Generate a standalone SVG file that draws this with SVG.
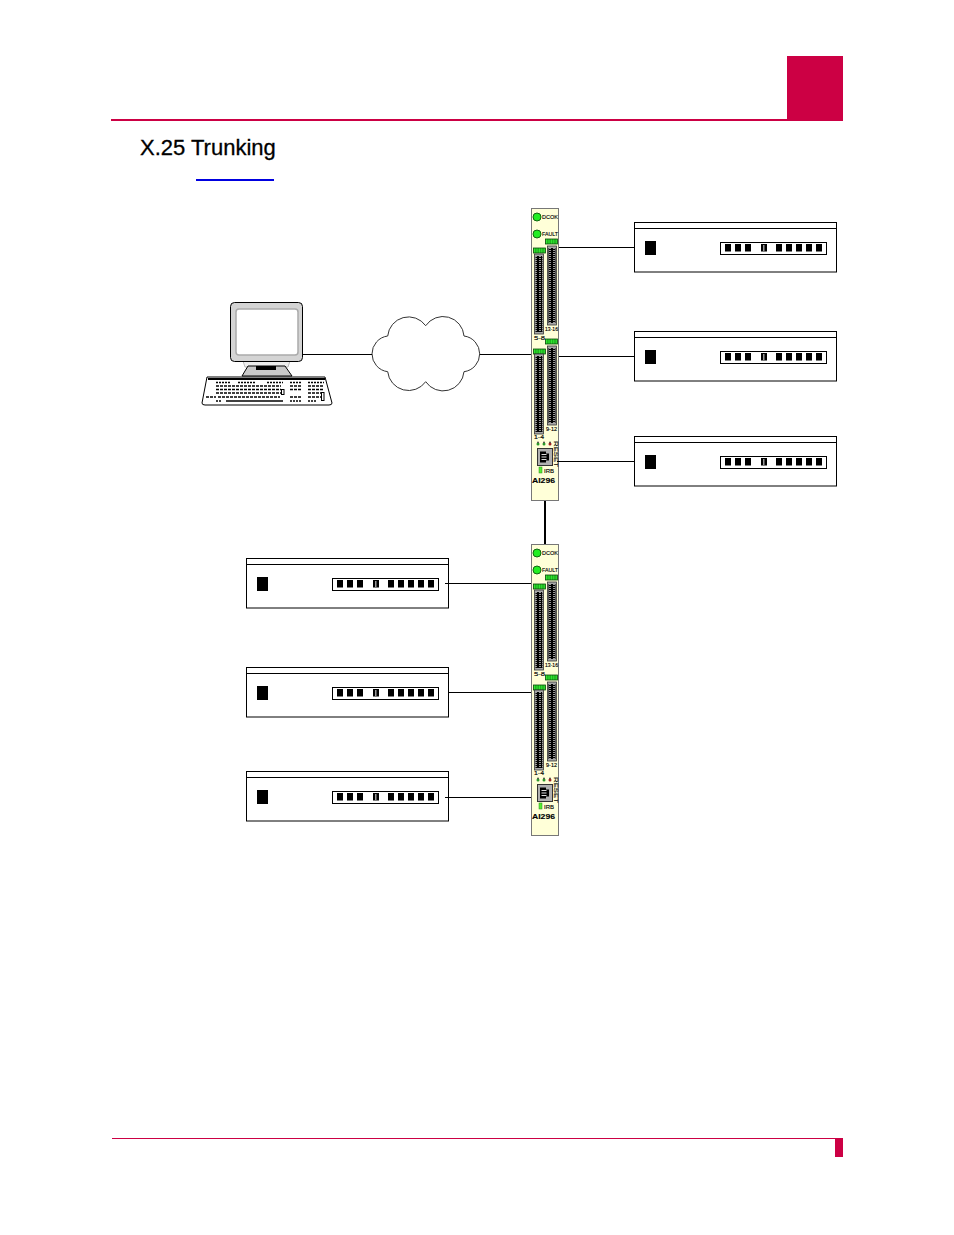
<svg xmlns="http://www.w3.org/2000/svg" xmlns:xlink="http://www.w3.org/1999/xlink" width="954" height="1235" viewBox="0 0 954 1235">
<style>
.wire{stroke:#000;stroke-width:1;fill:none}
.dev{fill:#fff;stroke:#000;stroke-width:1}
.k{fill:#000}
.lbl{font-family:"Liberation Sans",Arial,sans-serif;font-size:6px;fill:#000;stroke:#000;stroke-width:.15}
.led{fill:#22ee22;stroke:#116611;stroke-width:1}
.gb{fill:url(#seg);stroke:#0a4a0a;stroke-width:.8}
.lad{fill:#a8a8a8;stroke:#333;stroke-width:.8}
.keys{stroke:#000;fill:none}
.card{fill:#ffffd8;stroke:#777;stroke-width:1}
</style>
<defs>
<pattern id="dots" width="7" height="2" patternUnits="userSpaceOnUse">
<rect width="7" height="2" fill="#000"/>
<rect x="1" y="0" width="2" height="1" fill="#999"/>
<rect x="4" y="0" width="2" height="1" fill="#999"/>
</pattern>
<pattern id="seg" width="2.400" height="5" patternUnits="userSpaceOnUse">
<rect width="2.400" height="5" fill="#0a7a0a"/>
<rect x=".4" width="1.600" height="5" fill="#33ee33"/>
</pattern>
<g id="device-shape">
<rect class="dev" x=".5" y=".5" width="202" height="49.500"/>
<line class="wire" x1=".5" y1="6.500" x2="202.500" y2="6.500"/>
<rect class="k" x="11" y="19" width="11" height="14"/>
<rect class="dev" x="86.500" y="20.500" width="106" height="12"/>
<g class="k">
<rect x="91" y="22" width="6" height="7.500"/><rect x="101" y="22" width="6" height="7.500"/><rect x="111" y="22" width="6" height="7.500"/>
<rect x="127" y="22" width="6" height="7.500"/>
<rect x="142" y="22" width="6" height="7.500"/><rect x="152" y="22" width="6" height="7.500"/><rect x="162" y="22" width="6" height="7.500"/><rect x="172" y="22" width="6" height="7.500"/><rect x="182" y="22" width="6" height="7.500"/>
</g>
<rect x="129" y="23" width="1.500" height="6" fill="#999"/>
</g>
<g id="module-shape">
<circle class="led" cx="6" cy="9" r="4"/>
<circle class="led" cx="6" cy="26" r="4"/>
<text class="lbl" x="11" y="11" textLength="16" lengthAdjust="spacingAndGlyphs">DCOK</text>
<text class="lbl" x="11" y="28" textLength="16" lengthAdjust="spacingAndGlyphs">FAULT</text>
<rect class="gb" x="14.500" y="31" width="12" height="5"/>
<rect class="gb" x="2.500" y="40" width="12" height="5"/>
<rect class="gb" x="14.500" y="131" width="12" height="5"/>
<rect class="gb" x="2.500" y="141" width="12" height="5"/>
<rect class="lad" x="3.500" y="46" width="9" height="80"/>
<rect x="4.500" y="48" width="7" height="76" fill="url(#dots)"/>
<rect class="lad" x="16.500" y="38" width="9" height="79"/>
<rect x="17.500" y="40" width="7" height="75" fill="url(#dots)"/>
<rect class="lad" x="3.500" y="146" width="9" height="80"/>
<rect x="4.500" y="148" width="7" height="76" fill="url(#dots)"/>
<rect class="lad" x="16.500" y="138" width="9" height="79"/>
<rect x="17.500" y="140" width="7" height="75" fill="url(#dots)"/>
<text class="lbl" x="3" y="132" textLength="11" lengthAdjust="spacingAndGlyphs">5-8</text>
<text class="lbl" x="14" y="123" textLength="13" lengthAdjust="spacingAndGlyphs">13-16</text>
<text class="lbl" x="3" y="231" textLength="10" lengthAdjust="spacingAndGlyphs">1-4</text>
<text class="lbl" x="15" y="223" textLength="11" lengthAdjust="spacingAndGlyphs">9-12</text>
<circle cx="7" cy="236" r="1.500" fill="#2a9a2a"/><circle cx="13" cy="236" r="1.500" fill="#2a9a2a"/><circle cx="19" cy="236" r="1.500" fill="#a02020"/>
<path d="M6 235l1-2 1 2zM12 235l1-2 1 2zM18 235l1-2 1 2z" fill="#333"/>
<rect x="6.500" y="240.500" width="15" height="17" fill="#b0b0b0" stroke="#333"/>
<path d="M9 243.500h6v2h3v7h-3v2h-6z" fill="#000"/>
<path d="M10.500 246h5v1h-5zM10.500 248.500h5v1h-5zM10.500 251h5v1h-5z" fill="#ddd"/>
<text class="lbl" transform="translate(22.500,233) rotate(90)" textLength="26" lengthAdjust="spacingAndGlyphs">RESET</text>
<rect x="8" y="259" width="3" height="6" fill="#55ee33" stroke="#2a8a1a" stroke-width=".5"/>
<text class="lbl" x="13" y="265" textLength="10" lengthAdjust="spacingAndGlyphs">IRB</text>
<text class="lbl" style="font-size:8px;font-weight:bold" x="1" y="275" textLength="23" lengthAdjust="spacingAndGlyphs">AI296</text>
</g>
</defs>
<g id="page">
<rect x="787" y="56" width="56" height="64" fill="#cc0044"/>
<rect x="111" y="119" width="732" height="2" fill="#cc0044"/>
<text x="140" y="155" font-family="'Liberation Sans',Arial,sans-serif" font-size="22" fill="#000" stroke="#000" stroke-width=".3">X.25 Trunking</text>
<rect x="196" y="179" width="78" height="2" fill="#0000e0"/>
<rect x="112" y="1138" width="731" height="1" fill="#cc0044"/>
<rect x="835" y="1138" width="8" height="19" fill="#cc0044"/>
</g>
<g id="cloud">
<path d="M387.700 336A18 18 0 0 0 387.700 371.700A21 21 0 0 0 425.700 381.700A21 21 0 0 0 464 371.700A18 18 0 0 0 464 336A21 21 0 0 0 425.700 325.700A21 21 0 0 0 387.700 336Z" fill="#fff" stroke="#333" stroke-width="1"/>
</g>
<g id="computer">
<path d="M243 361l2 6h43l2-6z" fill="#eee" stroke="#bbb"/>
<path d="M248 366h37l7 10h-50z" fill="#c8c8c8" stroke="#000"/>
<rect x="256" y="366" width="20" height="4" fill="#000"/>
<rect x="230.500" y="302.500" width="72" height="59" rx="4" fill="#d4d4d4" stroke="#000"/>
<rect x="236" y="309" width="62" height="46" rx="3" fill="#fff" stroke="#aaa" stroke-width="1.500"/>
<path d="M207 377H325L332 403Q332 405 329 405H205Q202 405 202 403Z" fill="#fff" stroke="#000"/>
<rect x="208" y="378" width="117" height="2" fill="#000"/>
<g class="keys" stroke-width="1.500">
<path d="M216 382.500h15M238 382.500h18M267 382.500h16M290 382.500h12M308 382.500h16" stroke-dasharray="2 1"/>
<path d="M216 386h65M290 386h12M308 386h16" stroke-dasharray="3 1"/>
<path d="M216 389.500h65M290 389.500h12M308 389.500h16" stroke-dasharray="3 1"/>
<path d="M216 393h65M308 393h16" stroke-dasharray="3 1"/>
<path d="M206 397h10M218 397h62M290 397h12M308 397h16" stroke-dasharray="3 1"/>
<path d="M226 401h57"/>
<path d="M216 401h6M290 401h12M308 401h8" stroke-dasharray="2 1"/>
</g>
<rect x="281.500" y="389.500" width="2.500" height="5" fill="#fff" stroke="#000"/>
<rect x="321.500" y="392.500" width="2.500" height="8" fill="#fff" stroke="#000"/>
</g>
<g id="module-1"><rect class="card" x="531.500" y="208.500" width="27" height="292"/><use xlink:href="#module-shape" x="531" y="208"/></g>
<g id="module-2"><rect class="card" x="531.500" y="544.500" width="27" height="291"/><use xlink:href="#module-shape" x="531" y="544"/></g>
<use id="device-r1" xlink:href="#device-shape" x="634" y="222"/>
<use id="device-r2" xlink:href="#device-shape" x="634" y="331"/>
<use id="device-r3" xlink:href="#device-shape" x="634" y="436"/>
<use id="device-l1" xlink:href="#device-shape" x="246" y="558"/>
<use id="device-l2" xlink:href="#device-shape" x="246" y="667"/>
<use id="device-l3" xlink:href="#device-shape" x="246" y="771"/>
<g id="connectors">
<line class="wire" x1="559" y1="247.500" x2="634" y2="247.500"/>
<line class="wire" x1="559" y1="356.500" x2="634" y2="356.500"/>
<line class="wire" x1="557" y1="461.500" x2="634" y2="461.500"/>
<line class="wire" x1="303" y1="354.500" x2="372" y2="354.500"/>
<line class="wire" x1="480" y1="354.500" x2="531" y2="354.500"/>
<line class="wire" x1="445" y1="583.500" x2="531" y2="583.500"/>
<line class="wire" x1="448" y1="692.500" x2="531" y2="692.500"/>
<line class="wire" x1="445" y1="797.500" x2="531" y2="797.500"/>
<line x1="545" y1="501" x2="545" y2="544" stroke="#000" stroke-width="2"/>
</g>
</svg>
